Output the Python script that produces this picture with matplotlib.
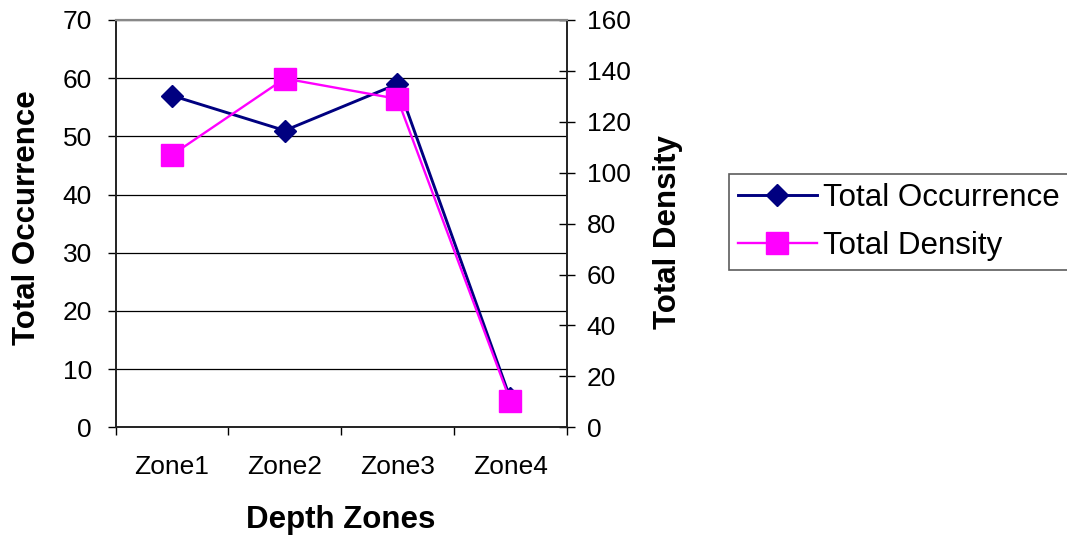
import matplotlib.pyplot as plt
from matplotlib.ticker import MultipleLocator, FixedLocator

plt.rcParams['font.family'] = ['Liberation Sans', 'DejaVu Sans']

# data per depth zone
zones = ["Zone1", "Zone2", "Zone3", "Zone4"]
total_occurrence = [57, 51, 59, 5]
total_density = [107, 137, 129, 10.5]

navy = "#000080"
magenta = "#FF00FF"

fig = plt.figure(figsize=(10.67, 5.37), dpi=100)
ax = fig.add_axes([0.1084, 0.2043, 0.4226, 0.7585])
ax2 = ax.twinx()

x = list(range(len(zones)))

# occurrence on the left axis
ax.plot(x, total_occurrence, color=navy, lw=2.1, marker="D", ms=11,
        mfc=navy, mec=navy, label="Total Occurrence", zorder=3)
# density on the right axis, drawn on top
ax2.plot(x, total_density, color=magenta, lw=1.7, marker="s", ms=16,
         mfc=magenta, mec=magenta, label="Total Density", zorder=3)

ax.set_xlim(-0.5, len(zones) - 0.5)
ax.set_ylim(0, 70)
ax2.set_ylim(0, 160)
ax.yaxis.set_major_locator(MultipleLocator(10))
ax2.yaxis.set_major_locator(MultipleLocator(20))

# horizontal gridlines from the left scale
ax.grid(axis="y", color="black", lw=0.9)
ax.set_axisbelow(True)

# category labels in the middle, ticks on the boundaries
ax.set_xticks(x)
ax.set_xticklabels(zones)
ax.xaxis.set_minor_locator(FixedLocator([i - 0.5 for i in range(len(zones) + 1)]))
ax.tick_params(axis="x", which="major", length=0, pad=20, labelsize=19)
ax.tick_params(axis="x", which="minor", length=6, width=1, direction="out")
ax.tick_params(axis="y", length=6, width=1, direction="out", pad=11, labelsize=19)
ax2.tick_params(axis="y", length=11, width=1, direction="inout", pad=9, labelsize=19)

for a in (ax, ax2):
    for side in ("left", "right", "bottom"):
        a.spines[side].set_color("#222222")
        a.spines[side].set_linewidth(1.2)
    a.spines["top"].set_color("#888888")
    a.spines["top"].set_linewidth(1.5)

fig.text(27 / 1067, 1 - 218 / 537, "Total Occurrence", rotation=90,
         ha="center", va="center", fontsize=22.5, fontweight="bold")
fig.text(668 / 1067, 1 - 232 / 537, "Total Density", rotation=90,
         ha="center", va="center", fontsize=22.5, fontweight="bold")
fig.text(341 / 1067, 1 - 520 / 537, "Depth Zones",
         ha="center", va="center", fontsize=22.5, fontweight="bold")

h1, l1 = ax.get_legend_handles_labels()
h2, l2 = ax2.get_legend_handles_labels()
leg = fig.legend(h1 + h2, l1 + l2, loc="upper left",
                 bbox_to_anchor=(729 / 1067, 1 - 174 / 537),
                 fontsize=22.5, frameon=True, fancybox=False,
                 edgecolor="#333333", handlelength=2.5, handletextpad=0.2,
                 labelspacing=0.55, borderpad=0.3, borderaxespad=0)
leg.get_frame().set_linewidth(1.2)

fig.savefig("out.png", dpi=100)
